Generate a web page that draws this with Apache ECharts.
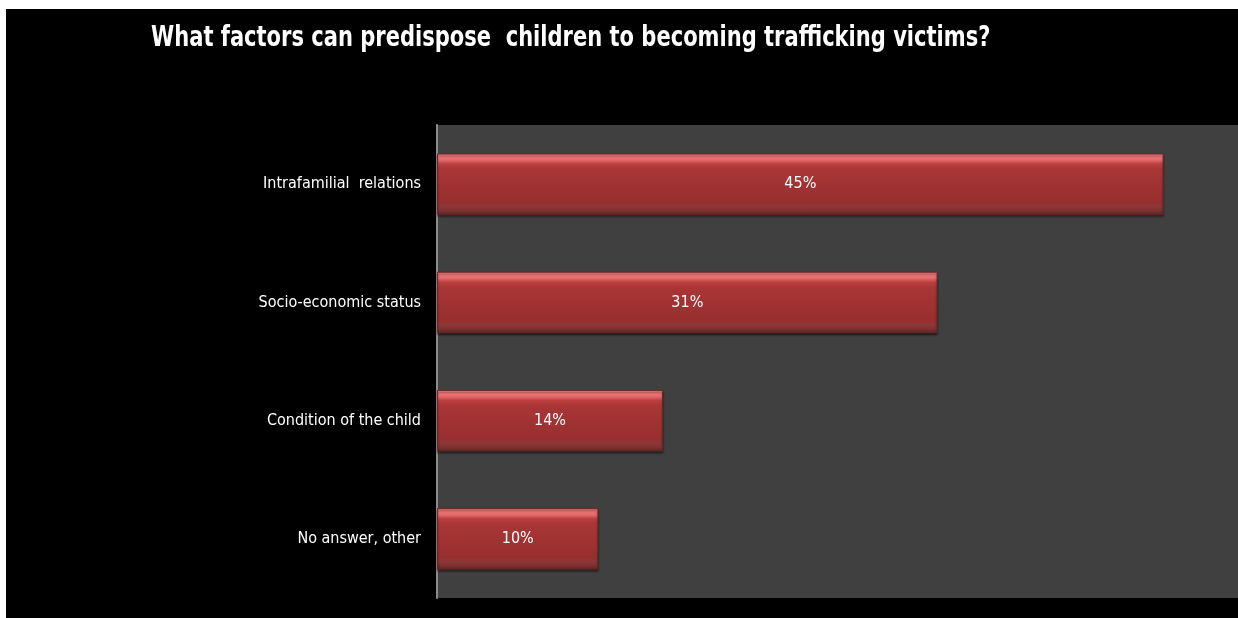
<!DOCTYPE html>
<html>
<head>
<meta charset="utf-8">
<script src="https://cdn.jsdelivr.net/npm/echarts@6/dist/echarts.min.js"></script>
<style>
  html, body { margin: 0; padding: 0; background: #ffffff; width: 1238px; height: 618px; overflow: hidden; }
  #chart { position: absolute; left: 6px; top: 9px; width: 1232px; height: 609px; background: #000000; }
</style>
</head>
<body>
<div id="chart"></div>
<script>
// Survey answers, listed top to bottom
const categories = ['Intrafamilial  relations', 'Socio-economic status', 'Condition of the child', 'No answer, other'];
const shares = [45, 31, 14, 10];
const titleText = 'What factors can predispose  children to becoming trafficking victims?';

const chart = echarts.init(document.getElementById('chart'));

const labelFont = '"Liberation Sans Narrow", "DejaVu Sans Condensed", sans-serif';

// Bevelled red fill: bright top lip, deep body, darker lower lip
const barFill = new echarts.graphic.LinearGradient(0, 0, 0, 1, [
  { offset: 0.00, color: '#d85656' },
  { offset: 0.03, color: '#f27c7c' },
  { offset: 0.11, color: '#e46a6a' },
  { offset: 0.17, color: '#bc4040' },
  { offset: 0.25, color: '#aa3636' },
  { offset: 0.80, color: '#982e2e' },
  { offset: 0.86, color: '#8c3838' },
  { offset: 0.94, color: '#7c3030' },
  { offset: 1.00, color: '#5c2222' }
]);

chart.setOption({
  backgroundColor: '#000000',
  animation: false,
  graphic: [{
    type: 'text',
    x: 145,
    y: 30,
    scaleX: 0.835,
    style: {
      text: titleText,
      fill: '#ffffff',
      fontFamily: '"DejaVu Sans Condensed", "DejaVu Sans", sans-serif',
      fontWeight: 'bold',
      fontSize: 28,
      align: 'left',
      verticalAlign: 'middle'
    }
  }],
  grid: {
    left: 431,
    top: 116,
    bottom: 20,
    right: 0,
    show: true,
    backgroundColor: '#404040',
    borderWidth: 0
  },
  xAxis: {
    type: 'value',
    min: 0,
    max: 49.6,
    show: false
  },
  yAxis: {
    type: 'category',
    inverse: true,
    data: categories,
    axisLine: { show: true, lineStyle: { color: '#8c8c8c', width: 2 } },
    axisTick: { show: false },
    axisLabel: {
      color: '#ffffff',
      margin: 16,
      fontSize: 16,
      fontFamily: labelFont
    }
  },
  series: [{
    type: 'bar',
    data: shares,
    barCategoryGap: '48%',
    itemStyle: {
      color: barFill,
      borderColor: '#6e2424',
      borderWidth: 1,
      shadowColor: 'rgba(0,0,0,0.45)',
      shadowOffsetY: 2,
      shadowBlur: 2
    },
    label: {
      show: true,
      position: 'inside',
      formatter: '{c}%',
      color: '#ffffff',
      fontSize: 16,
      fontFamily: labelFont
    }
  }]
});
</script>
</body>
</html>
